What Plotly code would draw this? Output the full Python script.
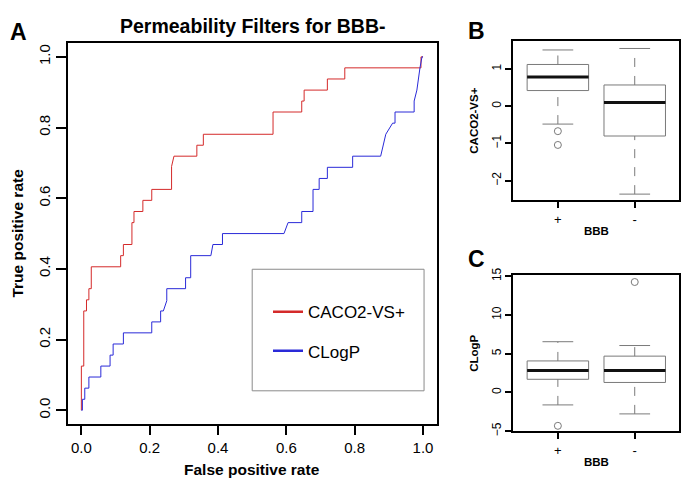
import plotly.graph_objects as go

# ---------------- Panel A: ROC curves ----------------
caco2_fpr = [0, 0, 0.007, 0.007, 0.015, 0.015, 0.022, 0.022, 0.029, 0.029, 0.115, 0.115,
             0.123, 0.123, 0.148, 0.148, 0.154, 0.154, 0.18, 0.18, 0.206, 0.206, 0.264,
             0.264, 0.271, 0.338, 0.338, 0.357, 0.357, 0.561, 0.561, 0.645, 0.645, 0.652,
             0.652, 0.72, 0.72, 0.771, 0.771, 0.994, 0.994, 1.0]
caco2_tpr = [0, 0.125, 0.125, 0.281, 0.281, 0.3125, 0.3125, 0.344, 0.344, 0.406, 0.406,
             0.4375, 0.4375, 0.469, 0.469, 0.531, 0.531, 0.5625, 0.5625, 0.594, 0.594,
             0.625, 0.625, 0.69, 0.719, 0.719, 0.75, 0.75, 0.781, 0.781, 0.844, 0.844,
             0.875, 0.875, 0.906, 0.906, 0.9375, 0.9375, 0.969, 0.969, 1.0, 1.0]

clogp_fpr = [0, 0.003, 0.003, 0.01, 0.01, 0.022, 0.022, 0.057, 0.057, 0.084, 0.084, 0.093,
             0.093, 0.123, 0.123, 0.206, 0.206, 0.232, 0.232, 0.24, 0.25, 0.25, 0.305,
             0.305, 0.32, 0.32, 0.379, 0.385, 0.413, 0.413, 0.593, 0.605, 0.645, 0.645,
             0.678, 0.678, 0.696, 0.696, 0.72, 0.72, 0.794, 0.794, 0.876, 0.884, 0.891,
             0.911, 0.918, 0.918, 0.974, 0.974, 0.982, 0.991, 0.997, 1.0]
clogp_tpr = [0, 0, 0.031, 0.031, 0.0625, 0.0625, 0.094, 0.094, 0.125, 0.125, 0.156, 0.156,
             0.1875, 0.1875, 0.219, 0.219, 0.25, 0.25, 0.281, 0.281, 0.31, 0.344, 0.344,
             0.375, 0.375, 0.4375, 0.4375, 0.469, 0.469, 0.5, 0.5, 0.531, 0.531, 0.5625,
             0.5625, 0.625, 0.625, 0.656, 0.656, 0.6875, 0.6875, 0.719, 0.719, 0.75, 0.781,
             0.8125, 0.8125, 0.844, 0.844, 0.875, 0.906, 0.969, 1.0, 1.0]

roc_ticks = [0, 0.2, 0.4, 0.6, 0.8, 1.0]
roc_tick_labels = ["0.0", "0.2", "0.4", "0.6", "0.8", "1.0"]
series_names = ["CACO2-VS+", "CLogP"]
series_colors = ["#d42a2a", "#2a2ad8"]

# ---------------- Panel B: CACO2-VS+ by BBB ----------------
bbb_groups = ["+", "-"]
caco2_lower_whisker = [-0.48, -2.36]
caco2_q1 = [0.42, -0.80]
caco2_median = [0.785, 0.097]
caco2_q3 = [1.12, 0.57]
caco2_upper_whisker = [1.51, 1.55]
caco2_outliers = [[-0.67, -1.04], []]
caco2_ticks = [-2, -1, 0, 1]

# ---------------- Panel C: CLogP by BBB ----------------
clogp_lower_whisker = [-1.62, -2.78]
clogp_q1 = [1.69, 1.28]
clogp_median = [2.81, 2.81]
clogp_q3 = [4.06, 4.68]
clogp_upper_whisker = [6.54, 6.05]
clogp_outliers = [[-4.32], [14.25]]
clogp_ticks = [-5, 0, 5, 10, 15]

FONT = "Liberation Sans, Arial, sans-serif"
BOX_GRAY = "#7a7a7a"

fig = go.Figure()

# ROC lines
for fpr, tpr, name, col in [(caco2_fpr, caco2_tpr, series_names[0], series_colors[0]),
                            (clogp_fpr, clogp_tpr, series_names[1], series_colors[1])]:
    fig.add_trace(go.Scatter(x=fpr, y=tpr, mode="lines", line=dict(color=col, width=1),
                             showlegend=False, hoverinfo="skip", xaxis="x", yaxis="y"))
# legend entries (thicker samples)
for i, (name, col) in enumerate(zip(series_names, series_colors)):
    fig.add_trace(go.Scatter(x=[None], y=[None], mode="lines", name=name,
                             line=dict(color=col, width=2.5), legendgroup=f"g{i}",
                             xaxis="x", yaxis="y"))


def add_boxes(xa, ya, lw, q1, med, q3, uw, outl):
    pos = [i + 1 for i in range(len(bbb_groups))]
    for i, p in enumerate(pos):
        fig.add_trace(go.Box(x=[p], q1=[q1[i]], median=[med[i]], q3=[q3[i]],
                             lowerfence=[q1[i]], upperfence=[q3[i]], width=0.8,
                             whiskerwidth=0, fillcolor="white",
                             line=dict(color=BOX_GRAY, width=1), boxpoints=False,
                             showlegend=False, hoverinfo="skip", xaxis=xa, yaxis=ya))
        # dashed whiskers
        fig.add_trace(go.Scatter(x=[p, p, None, p, p], y=[lw[i], q1[i], None, q3[i], uw[i]],
                                 mode="lines", line=dict(color=BOX_GRAY, width=1, dash="dash"),
                                 showlegend=False, hoverinfo="skip", xaxis=xa, yaxis=ya))
        # staples
        fig.add_trace(go.Scatter(x=[p - 0.2, p + 0.2, None, p - 0.2, p + 0.2],
                                 y=[lw[i], lw[i], None, uw[i], uw[i]],
                                 mode="lines", line=dict(color=BOX_GRAY, width=1),
                                 showlegend=False, hoverinfo="skip", xaxis=xa, yaxis=ya))
        # median
        fig.add_trace(go.Scatter(x=[p - 0.4, p + 0.4], y=[med[i], med[i]], mode="lines",
                                 line=dict(color="#111111", width=3),
                                 showlegend=False, hoverinfo="skip", xaxis=xa, yaxis=ya))
        if outl[i]:
            fig.add_trace(go.Scatter(x=[p] * len(outl[i]), y=outl[i], mode="markers",
                                     marker=dict(symbol="circle-open", size=7,
                                                 color=BOX_GRAY, line=dict(width=1)),
                                     showlegend=False, hoverinfo="skip", xaxis=xa, yaxis=ya))


add_boxes("x2", "y2", caco2_lower_whisker, caco2_q1, caco2_median, caco2_q3,
          caco2_upper_whisker, caco2_outliers)
add_boxes("x3", "y3", clogp_lower_whisker, clogp_q1, clogp_median, clogp_q3,
          clogp_upper_whisker, clogp_outliers)

W, H = 690, 491


def px_x(v):
    return v / W


def px_y(v):
    return 1 - v / H


frame = dict(showline=True, mirror=True, linecolor="black", linewidth=2, showgrid=False,
             zeroline=False, ticks="outside", tickcolor="black", tickwidth=1.5)

fig.update_layout(
    width=W, height=H, margin=dict(l=0, r=0, t=0, b=0),
    paper_bgcolor="white", plot_bgcolor="white",
    font=dict(family=FONT, color="black"),
    xaxis=dict(domain=[px_x(67.7), px_x(436.7)], range=[-0.04, 1.04], anchor="y",
               tickvals=roc_ticks, ticktext=roc_tick_labels, ticklen=9,
               tickfont=dict(size=15), **frame),
    yaxis=dict(domain=[px_y(427.7), px_y(35.7)], range=[-0.04, 1.04], anchor="x",
               tickvals=roc_ticks, ticktext=roc_tick_labels, ticklen=10, tickangle=-90,
               tickfont=dict(size=15), **frame),
    xaxis2=dict(domain=[px_x(513.3), px_x(679.3)], range=[0.42, 2.58], anchor="y2",
                tickvals=[1, 2], ticktext=bbb_groups, ticklen=6,
                tickfont=dict(size=13), **frame),
    yaxis2=dict(domain=[px_y(197.3), px_y(34.3)], range=[-2.52, 1.74], anchor="x2",
                tickvals=caco2_ticks, ticklen=6, tickangle=-90,
                tickfont=dict(size=12), **frame),
    xaxis3=dict(domain=[px_x(513.3), px_x(679.3)], range=[0.42, 2.58], anchor="y3",
                tickvals=[1, 2], ticktext=bbb_groups, ticklen=6,
                tickfont=dict(size=13), **frame),
    yaxis3=dict(domain=[px_y(435), px_y(274.3)], range=[-5.05, 15.15], anchor="x3",
                tickvals=clogp_ticks, ticklen=6, tickangle=-90,
                tickfont=dict(size=12), **frame),
    showlegend=True,
    legend=dict(x=px_x(268), y=px_y(294), xanchor="left", yanchor="top",
                bgcolor="rgba(0,0,0,0)", borderwidth=0, font=dict(size=17),
                tracegroupgap=14),
    shapes=[dict(type="rect", xref="x", yref="y", x0=0.50, x1=1.003, y0=0.055, y1=0.399,
                 line=dict(color="#8a8a8a", width=1), fillcolor="rgba(0,0,0,0)", layer="below")],
)

annots = [
    dict(text="<b>A</b>", x=px_x(18), y=px_y(25), size=23),
    dict(text="<b>B</b>", x=px_x(476), y=px_y(23.5), size=23),
    dict(text="<b>C</b>", x=px_x(476.5), y=px_y(258), size=23),
    dict(text="<b>Permeability Filters for BBB-</b>", x=px_x(252), y=px_y(18), size=19.5),
    dict(text="<b>False positive rate</b>", x=px_x(252), y=px_y(474), size=15.5),
    dict(text="<b>True positive rate</b>", x=px_x(18), y=px_y(231.7), size=15.5, angle=-90),
    dict(text="<b>BBB</b>", x=px_x(596.3), y=px_y(229), size=11.5),
    dict(text="<b>CACO2-VS+</b>", x=px_x(474), y=px_y(115.8), size=11.5, angle=-90),
    dict(text="<b>BBB</b>", x=px_x(596.3), y=px_y(466), size=11.5),
    dict(text="<b>CLogP</b>", x=px_x(474.5), y=px_y(354.7), size=11.5, angle=-90),
]
for a in annots:
    fig.add_annotation(text=a["text"], x=a["x"], y=a["y"], xref="paper", yref="paper",
                       xanchor="center", yanchor="middle", showarrow=False,
                       textangle=a.get("angle", 0), font=dict(size=a["size"], family=FONT))

page_css = ("var s=document.createElement('style');"
            "s.textContent='html,body{margin:0;padding:0;overflow:hidden;height:491px;}';"
            "document.head.appendChild(s);")
fig.write_html("out.html", config={"displayModeBar": False}, post_script=page_css)
